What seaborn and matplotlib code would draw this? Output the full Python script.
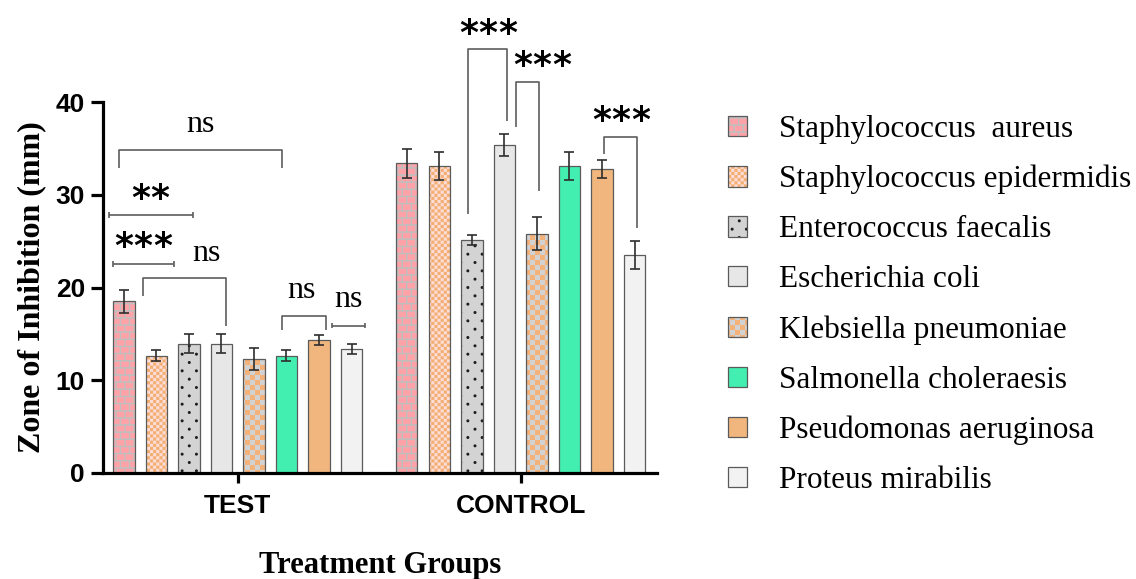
import warnings

import numpy as np
import pandas as pd
import matplotlib
matplotlib.use("Agg")
import matplotlib.pyplot as plt
import matplotlib.hatch as mhatch
from matplotlib import transforms
from matplotlib.colors import to_rgba
from matplotlib.patches import Rectangle
from matplotlib.path import Path
import seaborn as sns

warnings.filterwarnings("ignore", category=matplotlib.MatplotlibDeprecationWarning)

# ---------------------------------------------------------------- data
groups = ["TEST", "CONTROL"]
species = [
    "Staphylococcus  aureus",
    "Staphylococcus epidermidis",
    "Enterococcus faecalis",
    "Escherichia coli",
    "Klebsiella pneumoniae",
    "Salmonella choleraesis",
    "Pseudomonas aeruginosa",
    "Proteus mirabilis",
]
test_mean = [18.5, 12.65, 13.95, 13.95, 12.3, 12.65, 14.3, 13.33]
test_sd = [1.2, 0.6, 1.05, 1.05, 1.2, 0.6, 0.55, 0.55]
control_mean = [33.4, 33.1, 25.15, 35.4, 25.8, 33.1, 32.8, 23.5]
control_sd = [1.55, 1.5, 0.55, 1.2, 1.75, 1.5, 1.0, 1.55]

# ---------------------------------------------------------------- styling
fills = ["#FFA3A9", "#FCDDD7", "#D3D3D3", "#E7E7E7",
         "#D2D2D2", "#43EFB0", "#F1B67D", "#F2F2F2"]
hatches = ["b", "c", "d", None, "k", None, None, None]
hatch_colors = ["#BEBEBE", "#F3AE72", "#1E1E1E", None,
                "#F2B27A", None, None, None]
EDGE = "#5a5a5a"
HATCH_LW = 1.0  # points
plt.rcParams["hatch.linewidth"] = HATCH_LW


# ---------------------------------------------------------------- fill textures
class BrickHatch(mhatch.HatchPatternBase):
    """Running-bond brick courses: 'b'."""
    rows, cols = 14, 11

    def __init__(self, hatch, density):
        on = hatch is not None and "b" in hatch
        self.num_vertices = 2 * (self.rows + (self.rows + 1) * self.cols) if on else 0

    def set_vertices_and_codes(self, vertices, codes):
        r, c = self.rows, self.cols
        segs = []
        for i in range(r):
            y = (i + 0.5) / r
            segs.append([(0.0, y), (1.0, y)])
        for i in range(-1, r):
            y0 = max((i + 0.5) / r, 0.0)
            y1 = min((i + 1.5) / r, 1.0)
            shift = 0.25 + 0.5 * (i % 2)
            for j in range(c):
                x = (j + shift) / c
                segs.append([(x, y0), (x, y1)])
        vertices[:] = np.asarray(segs, float).reshape(-1, 2)
        codes[0::2] = Path.MOVETO
        codes[1::2] = Path.LINETO


class CheckerHatch(mhatch.HatchPatternBase):
    """Filled checkerboard squares: 'c' (fine)."""
    char, n = "c", 32

    def __init__(self, hatch, density):
        on = hatch is not None and self.char in hatch
        self.num_vertices = 5 * (self.n * self.n // 2) if on else 0

    def set_vertices_and_codes(self, vertices, codes):
        n = self.n
        s = 1.0 / n
        pad = HATCH_LW / 72.0 / 2.0
        verts = []
        for i in range(n):
            for j in range(n):
                if (i + j) % 2 == 0:
                    x0, y0 = j * s + pad, i * s + pad
                    x1, y1 = (j + 1) * s - pad, (i + 1) * s - pad
                    verts += [(x0, y0), (x1, y0), (x1, y1), (x0, y1), (x0, y0)]
        vertices[:] = np.asarray(verts, float)
        codes[:] = np.tile([Path.MOVETO, Path.LINETO, Path.LINETO,
                            Path.LINETO, Path.CLOSEPOLY], n * n // 2)


class CoarseCheckerHatch(CheckerHatch):
    """Filled checkerboard squares: 'k' (coarse)."""
    char, n = "k", 20


class DotHatch(mhatch.HatchPatternBase):
    """Staggered small filled dots: 'd'."""
    rows, cols, radius = 12, 7, 0.008

    def __init__(self, hatch, density):
        on = hatch is not None and "d" in hatch
        self.circle = Path.unit_circle()
        self.num_vertices = self.rows * self.cols * len(self.circle.vertices) if on else 0

    def set_vertices_and_codes(self, vertices, codes):
        cv = self.circle.vertices * self.radius
        cc = self.circle.codes
        vparts, cparts = [], []
        for i in range(self.rows):
            y = (i + 0.5) / self.rows
            shift = 0.25 + 0.5 * (i % 2)
            for j in range(self.cols):
                x = (j + shift) / self.cols
                vparts.append(cv + [x, y])
                cparts.append(cc)
        vertices[:] = np.concatenate(vparts)
        codes[:] = np.concatenate(cparts)


mhatch._hatch_types.extend([BrickHatch, CheckerHatch, CoarseCheckerHatch, DotHatch])

# ---------------------------------------------------------------- figure
sns.set_style("ticks")
plt.rcParams["font.family"] = ["Liberation Sans", "DejaVu Sans"]
plt.rcParams["hatch.linewidth"] = HATCH_LW
for key in ("text.color", "axes.labelcolor", "xtick.color", "ytick.color",
            "axes.edgecolor"):
    plt.rcParams[key] = "black"

W, H = 1136, 579
fig, ax = plt.subplots(figsize=(W / 100, H / 100), dpi=100)
fig.subplots_adjust(left=103 / W, right=657 / W, bottom=1 - 473 / H, top=1 - 102 / H)

df = pd.DataFrame({
    "group": np.repeat(groups, len(species)),
    "species": species * len(groups),
    "zone": test_mean + control_mean,
})

sns.barplot(
    data=df, x="group", y="zone", hue="species",
    order=groups, hue_order=species, palette=fills, saturation=1,
    width=0.92, gap=0.34, errorbar=None,
    edgecolor=EDGE, linewidth=0.9, legend=False, ax=ax, zorder=2,
)

sds = {"TEST": test_sd, "CONTROL": control_sd}
means = {"TEST": test_mean, "CONTROL": control_mean}
ex, ey, ee = [], [], []
for i, cont in enumerate(ax.containers):
    for j, p in enumerate(cont.patches):
        if hatches[i]:
            p.set_hatch(hatches[i])
            p._hatch_color = to_rgba(hatch_colors[i])
        ex.append(p.get_x() + p.get_width() / 2)
        ey.append(means[groups[j]][i])
        ee.append(sds[groups[j]][i])

ax.errorbar(ex, ey, yerr=ee, fmt="none", ecolor="#2e2e2e",
            elinewidth=1.2, capsize=3.8, capthick=1.2, zorder=3)

# ---------------------------------------------------------------- axes
ax.set_ylim(0, 40)
ax.set_yticks([0, 10, 20, 30, 40])
ax.set_xlim(-0.476, 1.482)
sns.despine(ax=ax)
for side in ("left", "bottom"):
    ax.spines[side].set_linewidth(2.3)
    ax.spines[side].set_color("black")
ax.tick_params(axis="y", width=2.3, length=9, labelsize=19, pad=4,
               color="black", labelcolor="black")
ax.tick_params(axis="x", width=2.3, length=7, labelsize=19, pad=8,
               color="black", labelcolor="black")
for lbl in ax.get_xticklabels() + ax.get_yticklabels():
    lbl.set_fontweight("bold")
    lbl.set_family(["Liberation Sans", "DejaVu Sans"])

serif = ["Liberation Serif", "DejaVu Serif"]
ax.set_ylabel("Zone of Inhibition (mm)", fontsize=23, fontweight="bold",
              family=serif, labelpad=7, color="black")
ax.set_xlabel("Treatment Groups", fontsize=22, fontweight="bold",
              family=serif, labelpad=24, color="black")

# ---------------------------------------------------------------- significance marks
# (x_left, x_right, y_top, y_left_end, y_right_end)  -> bracket with legs
# (x_left, x_right, y, None, None)                    -> capped line
marks = [
    ((-0.418, 0.155, 34.8, 32.9, 32.9), "ns", -0.1325, 36.8),
    ((-0.4565, -0.158, 27.85, None, None), "**", -0.309, 30.25),
    ((-0.441, -0.224, 22.55, None, None), "***", -0.334, 25.05),
    ((-0.336, -0.0396, 21.04, 19.03, 15.8), "ns", -0.109, 22.9),
    ((0.155, 0.312, 16.88, 15.38, 15.38), "ns", 0.227, 18.9),
    ((0.335, 0.4505, 15.9, None, None), "ns", 0.3915, 17.9),
    ((0.813, 0.952, 45.7, 27.9, 37.9), "***", 0.884, 48.06),
    ((0.982, 1.066, 42.15, 37.3, 30.4), "***", 1.075, 44.6),
    ((1.295, 1.4106, 36.27, 34.4, 26.4), "***", 1.355, 38.7),
]
BR = dict(color="#5e5e5e", lw=1.2, clip_on=False, zorder=4, solid_capstyle="butt")
STAR_STEP = 14.0  # points between neighbouring asterisks
for (x0, x1, y, yl, yr), label, tx, ty in marks:
    if yl is None:
        cap = 0.32
        ax.plot([x0, x1], [y, y], **BR)
        ax.plot([x0, x0], [y - cap, y + cap], **BR)
        ax.plot([x1, x1], [y - cap, y + cap], **BR)
    else:
        ax.plot([x0, x0, x1, x1], [yl, y, y, yr], **BR)
    if label == "ns":
        ax.text(tx, ty, label, ha="center", va="baseline", fontsize=23,
                family=serif, color="black", clip_on=False)
    else:
        n = len(label)
        for k in range(n):
            tf = transforms.offset_copy(ax.transData, fig=fig,
                                        x=(k - (n - 1) / 2) * STAR_STEP,
                                        y=-12, units="points")
            ax.text(tx, ty, "*", ha="center", va="baseline", fontsize=26,
                    fontweight="bold", family=["DejaVu Sans"], color="black",
                    transform=tf, clip_on=False)

# ---------------------------------------------------------------- legend
handles = []
for fc, h, hc in zip(fills, hatches, hatch_colors):
    r = Rectangle((0, 0), 1, 1, facecolor=fc, edgecolor=EDGE, linewidth=0.9, hatch=h)
    if hc:
        r._hatch_color = to_rgba(hc)
    handles.append(r)
leg = fig.legend(
    handles, species, loc="upper left",
    bbox_to_anchor=(728 / W, 1 - 115 / H), frameon=False,
    prop=dict(family=serif, size=22.5),
    handlelength=0.62, handleheight=0.62, handletextpad=1.02,
    labelspacing=0.67, borderpad=0, borderaxespad=0,
)
for lp, hc in zip(leg.get_patches(), hatch_colors):
    if hc:
        lp._hatch_color = to_rgba(hc)
for t in leg.get_texts():
    t.set_color("black")

fig.savefig("out.png", dpi=100)
